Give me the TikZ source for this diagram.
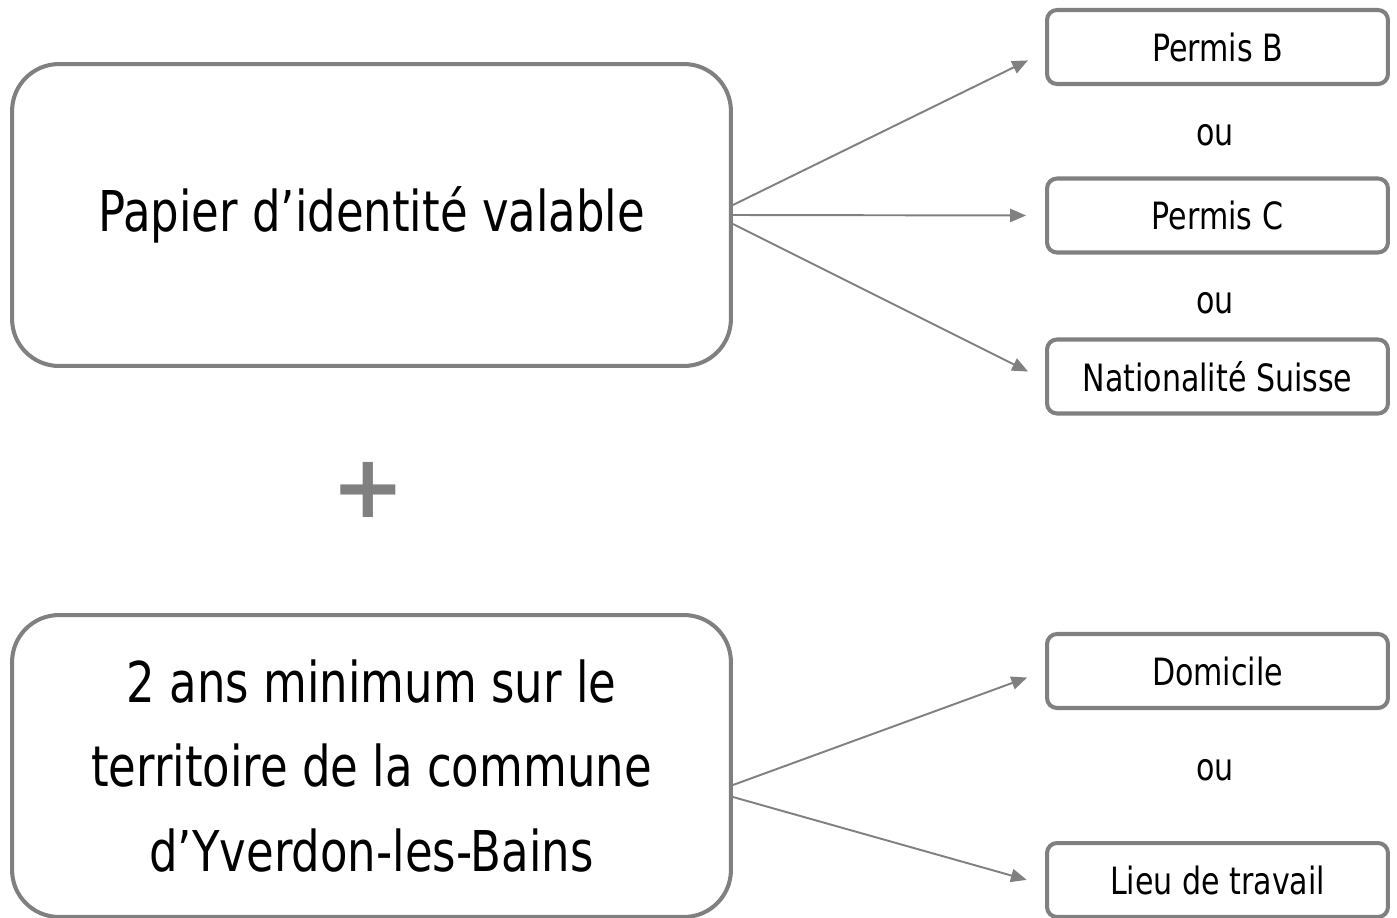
\documentclass[tikz,border=0pt]{standalone}
\usepackage{fontspec}
\setmainfont{DejaVu Sans}[FakeStretch=0.8]
\usepackage{tikz}
\usetikzlibrary{positioning,arrows.meta,calc}
\definecolor{linegray}{HTML}{808080}
\tikzset{
    bigblock/.style = {
        draw=linegray,
        shape=rectangle,
        rounded corners=0.94cm,
        minimum height=6.04cm,
        minimum width=14.38cm,
        line width=2.3pt,
        align=center,
        font=\fontsize{32}{48}\selectfont
    },
    smallblock/.style = {
        draw=linegray,
        shape=rectangle,
        rounded corners=0.2cm,
        minimum height=1.48cm,
        minimum width=6.82cm,
        line width=2.3pt,
        font=\fontsize{21.4}{24}\selectfont
    },
    ortext/.style = {
        shape=rectangle,
        font=\fontsize{21.4}{24}\selectfont
    },
    link/.style = {
        draw=linegray,
        line width=1.1pt,
        shorten >=0.38cm
    },
    >={Triangle[length=9pt,width=7.5pt]},
}

\begin{document}
\begin{tikzpicture}[x=0.02cm,y=-0.02cm]
            \useasboundingbox (0,0) rectangle (1397,917);

            \node[bigblock] (pap) at (371.5,215) {Papier d’identité valable};
            \node[bigblock] (yver) at (371.5,766) {2 ans minimum sur le\\territoire de la commune\\d’Yverdon-les-Bains};

            \node[smallblock] (permb) at (1217.5,47) {Permis B};
            \node[smallblock] (permc) at (1217.5,215.5) {Permis C};
            \node[smallblock] (nat) at (1217.5,376.5) {Nationalité Suisse};
            \node[smallblock] (dom) at (1217.5,671) {Domicile};
            \node[smallblock] (lieu) at (1217.5,880) {Lieu de travail};

            \node[ortext] (ou1) at (1215,135) {ou};
            \node[ortext] (ou2) at (1215,303) {ou};
            \node[ortext] (ou3) at (1215,770) {ou};

            \node[text=linegray, font=\fontsize{50}{50}\selectfont\bfseries\addfontfeature{FakeStretch=1}] (plus) at (368,490) {+};

            \path[link, ->] ([yshift=0.2cm]pap.east) -- ([yshift=-0.1cm]permb.west);
            \path[link, ->] (pap.east) -- (permc.west);
            \path[link, ->] ([yshift=-0.18cm]pap.east) -- ([yshift=-0.07cm]nat.west);
            \path[link, ->] ([yshift=-0.38cm]yver.east) -- (dom.west);
            \path[link, ->] ([yshift=-0.62cm]yver.east) -- ([yshift=-0.1cm]lieu.west);
        \end{tikzpicture}
\end{document}
